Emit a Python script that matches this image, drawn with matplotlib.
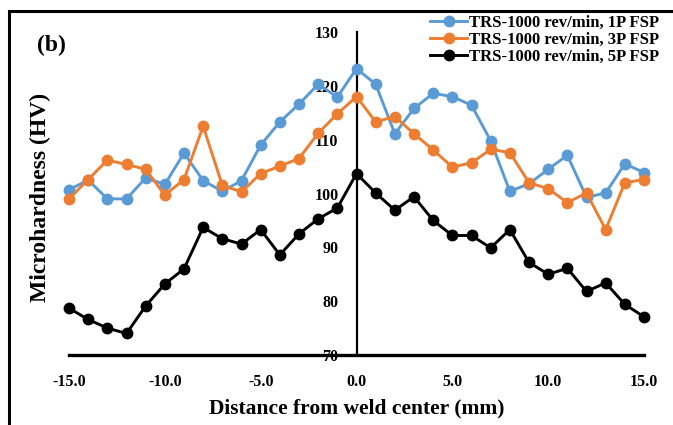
import matplotlib
matplotlib.use("Agg")
import matplotlib.pyplot as plt
from matplotlib.patches import Rectangle
from matplotlib.ticker import FuncFormatter, MultipleLocator

distance = list(range(-15, 16))
hv_1p = [100.7, 102.5, 99.0, 99.0, 102.9, 101.7, 107.5, 102.4, 100.4, 102.4,
         109.0, 113.3, 116.6, 120.3, 117.9, 123.2, 120.3, 111.1, 115.8, 118.6,
         118.0, 116.4, 109.8, 100.4, 101.8, 104.5, 107.1, 99.3, 100.1, 105.5, 103.9]
hv_3p = [99.0, 102.6, 106.2, 105.4, 104.5, 99.7, 102.6, 112.5, 101.5, 100.3,
         103.7, 105.1, 106.5, 111.2, 114.8, 118.0, 113.3, 114.3, 111.1, 108.1,
         104.9, 105.7, 108.2, 107.6, 102.0, 100.9, 98.3, 100.1, 93.3, 102.0, 102.6]
hv_5p = [78.7, 76.6, 75.0, 74.0, 79.1, 83.2, 86.0, 93.7, 91.6, 90.6,
         93.3, 88.6, 92.5, 95.3, 97.3, 103.7, 100.1, 96.9, 99.4, 95.0,
         92.2, 92.2, 89.9, 93.3, 87.2, 85.0, 86.1, 81.8, 83.4, 79.4, 77.1]
labels = ["TRS-1000 rev/min, 1P FSP", "TRS-1000 rev/min, 3P FSP", "TRS-1000 rev/min, 5P FSP"]
colors = ["#5B9BD5", "#ED7D31", "#000000"]

plt.rcParams['font.family'] = ['Liberation Serif', 'DejaVu Serif']
plt.rcParams['font.weight'] = 'bold'

W, H = 673, 425
fig = plt.figure(figsize=(W / 100, H / 100), dpi=100)
ax = fig.add_axes([69 / W, 1 - 355 / H, (644 - 69) / W, (355 - 32) / H])

for ys, lab, c in zip([hv_1p, hv_3p, hv_5p], labels, colors):
    ax.plot(distance, ys, color=c, lw=2.1, marker='o', markersize=7.5, label=lab, clip_on=False, zorder=3)

ax.set_xlim(-15, 15)
ax.set_ylim(70, 130)
ax.spines['left'].set_position(('data', 0))
ax.spines['right'].set_visible(False)
ax.spines['top'].set_visible(False)
ax.spines['bottom'].set_linewidth(2.4)
ax.spines['left'].set_linewidth(1.6)
ax.spines['left'].set_zorder(2)
ax.xaxis.set_major_locator(MultipleLocator(5))
ax.yaxis.set_major_locator(MultipleLocator(10))
ax.xaxis.set_major_formatter(FuncFormatter(lambda v, p: f"{v:.1f}"))
ax.tick_params(axis='both', length=0, labelsize=11.5)
ax.tick_params(axis='y', pad=13)
ax.tick_params(axis='x', pad=14)
for t in ax.get_xticklabels() + ax.get_yticklabels():
    t.set_fontweight('bold')
ax.patch.set_alpha(0)

fig.text(40 / W, 1 - 197 / H, "Microhardness (HV)", rotation=90, ha='center', va='center',
         fontsize=17, fontweight='bold')
fig.text(357 / W, 1 - 408 / H, "Distance from weld center (mm)", ha='center', va='center',
         fontsize=15.5, fontweight='bold')
fig.text(51 / W, 1 - 45 / H, "(b)", ha='center', va='center', fontsize=17, fontweight='bold')

leg = ax.legend(loc='upper right', bbox_to_anchor=(662 / W, 1 - 12 / H), bbox_transform=fig.transFigure,
                frameon=False, fontsize=12, handlelength=2.2, handletextpad=0.1, labelspacing=0.05,
                borderaxespad=0, borderpad=0.2)
for t in leg.get_texts():
    t.set_fontweight('bold')

fig.patches.append(Rectangle((9 / W, -0.2), 1.3, 1.2 - 11 / H, transform=fig.transFigure,
                             fill=False, edgecolor='black', linewidth=2.2, figure=fig))

fig.savefig("out.png", dpi=100)
